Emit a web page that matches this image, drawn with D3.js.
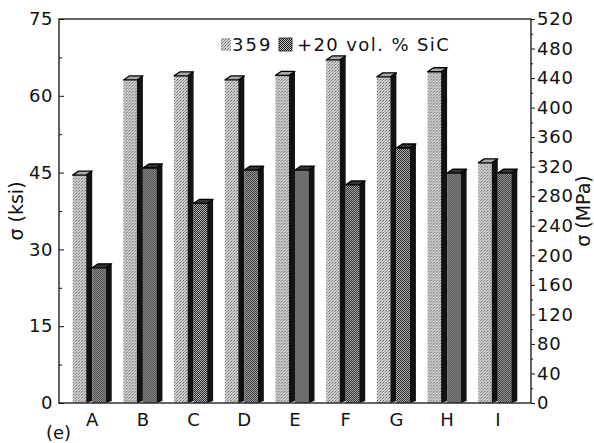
<!DOCTYPE html>
<html>
<head>
<meta charset="utf-8">
<script src="https://cdn.jsdelivr.net/npm/d3@7"></script>
<style>
  body { margin: 0; background: #fff; }
  text { font-family: "DejaVu Sans", "Liberation Sans", sans-serif; fill: #111; }
</style>
</head>
<body>
<div id="chart"></div>
<script>
// data (values in ksi)
var categories = ["A", "B", "C", "D", "E", "F", "G", "H", "I"];
var alloy359 = [44.5, 63.1, 63.9, 63.1, 64.0, 67.0, 63.7, 64.7, 46.9];
var withSiC = [26.4, 45.9, 39.0, 45.5, 45.5, 42.6, 49.8, 44.9, 44.9];
var seriesNames = ["359", "+20 vol. % SiC"];

// tick labels
var ksiTicks = [0, 15, 30, 45, 60, 75];
var ksiMinor = [7.5, 22.5, 37.5, 52.5, 67.5];
var mpaTicks = [0, 40, 80, 120, 160, 200, 240, 280, 320, 360, 400, 440, 480, 520];
var mpaMinor = [20, 60, 100, 140, 180, 220, 260, 300, 340, 380, 420, 460, 500];

var margin = { top: 19, right: 63, bottom: 40, left: 59 },
  width = 594 - margin.left - margin.right,
  height = 443 - margin.top - margin.bottom;

var svg = d3
  .select("#chart")
  .append("svg")
  .attr("width", 594)
  .attr("height", 443);

// textures for the bar faces
var defs = svg.append("defs");
var lite = defs.append("pattern").attr("id", "lite")
  .attr("width", 3).attr("height", 3).attr("patternUnits", "userSpaceOnUse");
lite.append("rect").attr("width", 3).attr("height", 3).attr("fill", "#d6d6d6");
lite.append("rect").attr("x", 0).attr("y", 0).attr("width", 1).attr("height", 1).attr("fill", "#555");
lite.append("rect").attr("x", 2).attr("y", 1).attr("width", 1).attr("height", 1).attr("fill", "#7a7a7a");
lite.append("rect").attr("x", 1).attr("y", 2).attr("width", 1).attr("height", 1).attr("fill", "#999");

var hatch = defs.append("pattern").attr("id", "hatch")
  .attr("width", 2).attr("height", 2).attr("patternUnits", "userSpaceOnUse");
hatch.append("rect").attr("width", 2).attr("height", 2).attr("fill", "#c4c4c4");
hatch.append("rect").attr("x", 0).attr("y", 0).attr("width", 1).attr("height", 1).attr("fill", "#161616");
hatch.append("rect").attr("x", 1).attr("y", 1).attr("width", 1).attr("height", 1).attr("fill", "#161616");

var g = svg.append("g")
  .attr("transform", "translate(" + margin.left + "," + margin.top + ")");

// scales
var x = d3.scaleBand().domain(categories).range([0, width])
  .paddingInner(0.23).paddingOuter(0.27);
var xSub = d3.scaleBand().domain(seriesNames).range([0, x.bandwidth()]);
var yKsi = d3.scaleLinear().domain([0, 75]).range([height, 0]);
var yMpa = d3.scaleLinear().domain([0, 520]).range([height, 0]);

var depth = 6, rise = 4;
var faceW = xSub.bandwidth() - depth;
var fills = { "359": "url(#lite)", "+20 vol. % SiC": "url(#hatch)" };
var topFills = { "359": "#a8a8a8", "+20 vol. % SiC": "#333" };

var rows = categories.map(function (c, i) {
  return { cat: c, values: [
    { key: seriesNames[0], value: alloy359[i] },
    { key: seriesNames[1], value: withSiC[i] }
  ] };
});

var bars = g.append("g")
  .selectAll("g")
  .data(rows)
  .enter()
  .append("g")
  .attr("transform", function (d) { return "translate(" + x(d.cat) + ",0)"; })
  .selectAll("g")
  .data(function (d) { return d.values; })
  .enter()
  .append("g");

// front face
bars.append("rect")
  .attr("x", function (d) { return xSub(d.key); })
  .attr("y", function (d) { return yKsi(d.value); })
  .attr("width", faceW)
  .attr("height", function (d) { return height - yKsi(d.value); })
  .attr("fill", function (d) { return fills[d.key]; });

// side face
bars.append("path")
  .attr("d", function (d) {
    var x0 = xSub(d.key) + faceW, y0 = yKsi(d.value);
    return "M" + x0 + "," + y0 + "L" + (x0 + depth) + "," + (y0 - rise) +
      "L" + (x0 + depth) + "," + (height - 2) + "L" + x0 + "," + height + "Z";
  })
  .attr("fill", "#121212");

// top face
bars.append("path")
  .attr("d", function (d) {
    var x0 = xSub(d.key), y0 = yKsi(d.value);
    return "M" + x0 + "," + y0 + "L" + (x0 + depth) + "," + (y0 - rise) +
      "L" + (x0 + faceW + depth) + "," + (y0 - rise) + "L" + (x0 + faceW) + "," + y0 + "Z";
  })
  .attr("fill", function (d) { return topFills[d.key]; })
  .attr("stroke", "#000")
  .attr("stroke-width", 1.3)
  .attr("stroke-linejoin", "round");

// left axis (ksi), ticks pointing in
var left = g.append("g")
  .call(d3.axisLeft(yKsi).tickValues(ksiTicks).tickSize(-5).tickPadding(6));
g.append("g")
  .call(d3.axisLeft(yKsi).tickValues(ksiMinor).tickSize(-3).tickFormat(""));

// right axis (MPa), ticks pointing out
var right = g.append("g")
  .attr("transform", "translate(" + width + ",0)")
  .call(d3.axisRight(yMpa).tickValues(mpaTicks).tickSize(4).tickPadding(2));
g.append("g")
  .attr("transform", "translate(" + width + ",0)")
  .call(d3.axisRight(yMpa).tickValues(mpaMinor).tickSize(2).tickFormat(""));

// category axis
var bottom = g.append("g")
  .attr("transform", "translate(0," + height + ")")
  .call(d3.axisBottom(x).tickSize(0).tickPadding(10));

g.selectAll(".domain").remove();
g.selectAll(".tick line").attr("stroke", "#111").attr("stroke-width", 1);
g.selectAll(".tick text")
  .attr("font-size", "18px")
  .attr("font-family", "DejaVu Sans, sans-serif")
  .attr("fill", "#111");
left.selectAll(".tick text").attr("letter-spacing", "0.5px");
right.selectAll(".tick text").attr("letter-spacing", "0.8px");

// frame
g.append("rect")
  .attr("width", width)
  .attr("height", height)
  .attr("fill", "none")
  .attr("stroke", "#111")
  .attr("stroke-width", 1.3);

// axis titles
svg.append("text")
  .attr("transform", "translate(16," + (margin.top + height / 2) + ") rotate(-90)")
  .attr("text-anchor", "middle")
  .attr("dy", "0.35em")
  .attr("font-size", "19px")
  .text("σ (ksi)");

svg.append("text")
  .attr("transform", "translate(583," + (margin.top + height / 2) + ") rotate(-90)")
  .attr("text-anchor", "middle")
  .attr("dy", "0.35em")
  .attr("font-size", "19px")
  .text("σ (MPa)");

// legend
var legend = svg.append("g");
legend.append("rect").attr("x", 221).attr("y", 38).attr("width", 10).attr("height", 13)
  .attr("fill", "url(#lite)");
legend.append("text").attr("x", 232).attr("y", 51).attr("font-size", "18px")
  .attr("letter-spacing", "2px").text(seriesNames[0]);
legend.append("rect").attr("x", 279).attr("y", 38).attr("width", 13).attr("height", 13)
  .attr("fill", "url(#hatch)").attr("stroke", "#222").attr("stroke-width", 0.8);
legend.append("text").attr("x", 297).attr("y", 51).attr("font-size", "18px")
  .attr("letter-spacing", "1.4px").text(seriesNames[1]);

// panel label
svg.append("text")
  .attr("x", 46)
  .attr("y", 439)
  .attr("font-size", "18px")
  .text("(e)");
</script>
</body>
</html>
